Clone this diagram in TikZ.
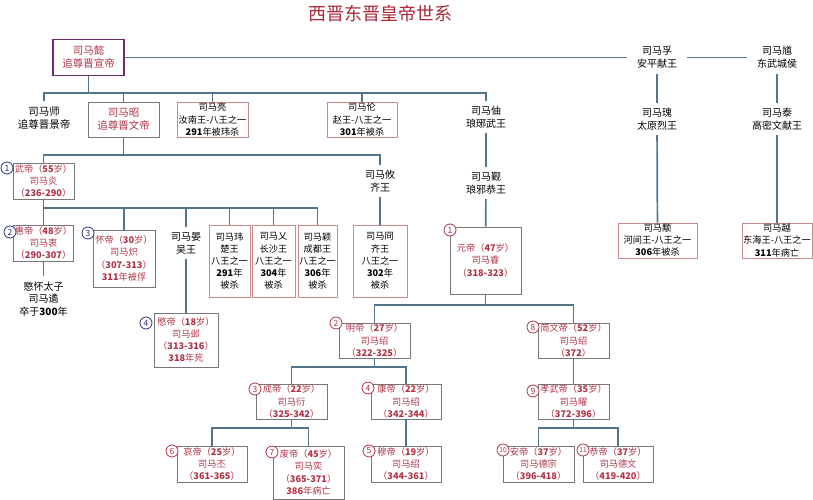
\documentclass[tikz,border=0pt]{standalone}
\usepackage{fontspec}
\setmainfont{Noto Sans CJK SC}
\usepackage{tikz}
\usetikzlibrary{positioning}

\definecolor{jinred}{RGB}{176,52,72}
\definecolor{titlered}{RGB}{172,38,56}
\definecolor{linkc}{RGB}{84,118,138}
\definecolor{boxgray}{RGB}{120,120,120}
\definecolor{wangpink}{RGB}{200,140,140}
\definecolor{yipurple}{RGB}{110,40,110}
\definecolor{numblue}{RGB}{40,50,120}

\begin{document}
\begin{tikzpicture}[
    x=1pt, y=-1pt,
    link/.style={draw=linkc, line width=1.7pt},
    person/.style={align=center, inner xsep=6pt, inner ysep=5pt, font=\fontsize{10}{12.8}\selectfont},
    emperor/.style={rectangle, draw=boxgray, line width=0.8pt, align=center, text=jinred, inner sep=1pt, minimum width=71pt, minimum height=36pt, font=\fontsize{9.2}{12.2}\selectfont},
    wang/.style={emperor, draw=wangpink, text=black},
    numb/.style={circle, draw, fill=white, line width=0.8pt, inner sep=0pt, minimum size=12pt, font=\fontsize{8.5}{8.5}\selectfont},
    numw/.style={numb, draw=numblue, text=numblue},
    nume/.style={numb, draw=jinred, text=jinred}
]
    \useasboundingbox (0,0) rectangle (813,500);

    \node[font=\fontsize{18}{18}\selectfont, text=titlered] (title) at (380,14) {西晋东晋皇帝世系};

    \node[emperor, draw=yipurple, line width=1.6pt, font=\fontsize{10.5}{13}\selectfont] (yi) at (88.5,57.5) {司马懿\\追尊晋宣帝};
    \node[person, inner xsep=10pt] (fu) at (657,57.5) {司马孚\\安平献王};
    \node[person, inner xsep=10pt] (kui) at (777,57.5) {司马馗\\东武城侯};

    \node[person, font=\fontsize{10.5}{13}\selectfont] (shi) at (44,118) {司马师\\追尊晋景帝};
    \node[emperor, minimum height=35pt, font=\fontsize{10.5}{13}\selectfont] (zhao) at (123.5,119.5) {司马昭\\追尊晋文帝};
    \node[wang, minimum height=35pt] (liang) at (212.5,119.5) {司马亮\\汝南王-八王之一\\\textbf{291}年被玮杀};
    \node[wang, minimum height=35pt, minimum width=70pt] (lun) at (362,119.5) {司马伦\\赵王-八王之一\\\textbf{301}年被杀};
    \node[person] (zhou) at (486,117) {司马伷\\琅琊武王};
    \node[person] (gui) at (657,119) {司马瑰\\太原烈王};
    \node[person] (tai) at (777,119) {司马泰\\高密文献王};

    \node[emperor, minimum width=61pt] (wudi) at (43.5,181) {武帝（\textbf{55}岁）\\司马炎\\（\textbf{236-290}）};
    \node[person] (you) at (380,181) {司马攸\\齐王};
    \node[person] (jin) at (486,183) {司马觐\\琅邪恭王};

    \node[emperor, minimum width=58pt] (huidi) at (43.5,243) {惠帝（\textbf{48}岁）\\司马衷\\（\textbf{290-307}）};
    \node[person] (sui) at (43.5,299) {愍怀太子\\司马遹\\卒于\textbf{300}年};
    \node[emperor, minimum width=62pt, minimum height=57pt] (huaidi) at (124,258.5) {怀帝（\textbf{30}岁）\\司马炽\\（\textbf{307-313}）\\\textbf{311}年被俘};
    \node[person] (yan) at (186,243) {司马晏\\吴王};
    \node[wang, minimum width=41pt, minimum height=72pt] (wei) at (229.5,261) {司马玮\\楚王\\八王之一\\\textbf{291}年\\被杀};
    \node[wang, minimum width=43pt, minimum height=72pt] (changsha) at (273.5,261) {司马乂\\长沙王\\八王之一\\\textbf{304}年\\被杀};
    \node[wang, minimum width=39pt, minimum height=72pt] (ying) at (317.5,261) {司马颖\\成都王\\八王之一\\\textbf{306}年\\被杀};
    \node[wang, minimum width=54pt, minimum height=72pt] (jiong) at (380,261) {司马冏\\齐王\\八王之一\\\textbf{302}年\\被杀};
    \node[emperor, minimum height=67pt] (yuandi) at (485.5,260.5) {元帝（\textbf{47}岁）\\司马睿\\（\textbf{318-323}）};
    \node[wang, minimum width=79pt, minimum height=35pt] (yong) at (657.5,240.5) {司马颙\\河间王-八王之一\\\textbf{306}年被杀};
    \node[wang, minimum width=70pt, minimum height=35pt] (yue) at (777,240.5) {司马越\\东海王-八王之一\\\textbf{311}年病亡};

    \node[emperor, minimum width=64pt, minimum height=54pt] (mindi) at (186,340) {愍帝（\textbf{18}岁）\\司马邺\\（\textbf{313-316}）\\\textbf{318}年死};
    \node[emperor, minimum height=35pt] (mingdi) at (374.5,340.5) {明帝（\textbf{27}岁）\\司马绍\\（\textbf{322-325}）};
    \node[emperor, minimum height=35pt] (jianwen) at (573.5,340.5) {简文帝（\textbf{52}岁）\\司马绍\\（\textbf{372}）};

    \node[emperor, minimum height=35pt] (chengdi) at (291.5,401.5) {成帝（\textbf{22}岁）\\司马衍\\（\textbf{325-342}）};
    \node[emperor, minimum height=35pt, minimum width=70pt] (kangdi) at (406,401.5) {康帝（\textbf{22}岁）\\司马绍\\（\textbf{342-344}）};
    \node[emperor, minimum height=35pt] (xiaowu) at (573.5,401.5) {孝武帝（\textbf{35}岁）\\司马曜\\（\textbf{372-396}）};

    \node[emperor, minimum width=70pt] (aidi) at (212,464) {哀帝（\textbf{25}岁）\\司马丕\\（\textbf{361-365}）};
    \node[emperor, minimum height=53pt] (feidi) at (308.5,472.5) {废帝（\textbf{45}岁）\\司马奕\\（\textbf{365-371}）\\\textbf{386}年病亡};
    \node[emperor, minimum width=70pt] (mudi) at (406,464) {穆帝（\textbf{19}岁）\\司马绍\\（\textbf{344-361}）};
    \node[emperor] (andi) at (538.5,464) {安帝（\textbf{37}岁）\\司马德宗\\（\textbf{396-418}）};
    \node[emperor, minimum width=70pt] (gongdi) at (618,464) {恭帝（\textbf{37}岁）\\司马德文\\（\textbf{419-420}）};

    \coordinate (b1) at (88.5,93);
    \coordinate (b2) at (123.5,155);
    \coordinate (b3) at (43.5,208);
    \coordinate (b4) at (485.5,305);
    \coordinate (b5) at (374.5,367);
    \coordinate (b6) at (291.5,428);
    \coordinate (b7) at (573.5,428);

    \draw[link] (yi) -- (fu);
    \draw[link] (fu) -- (kui);
    \draw[link] (fu) -- (gui);
    \draw[link] (gui) -- (yong);
    \draw[link] (kui) -- (tai);
    \draw[link] (tai) -- (yue);

    \draw[link] (yi) -- (b1);
    \draw[link] (b1) -| (shi);
    \draw[link] (b1) -| (zhao);
    \draw[link] (b1) -| (liang);
    \draw[link] (b1) -| (lun);
    \draw[link] (b1) -| (zhou);

    \draw[link] (zhao) -- (b2);
    \draw[link] (b2) -| (wudi);
    \draw[link] (b2) -| (you);
    \draw[link] (you) -- (jiong);

    \draw[link] (wudi) -- (b3);
    \draw[link] (b3) -| (huidi);
    \draw[link] (b3) -| (huaidi);
    \draw[link] (b3) -| (yan);
    \draw[link] (b3) -| (wei);
    \draw[link] (b3) -| (changsha);
    \draw[link] (b3) -| (ying);
    \draw[link] (huidi) -- (sui);
    \draw[link] (yan) -- (mindi);

    \draw[link] (zhou) -- (jin);
    \draw[link] (jin) -- (yuandi);
    \draw[link] (yuandi) -- (b4);
    \draw[link] (b4) -| (mingdi);
    \draw[link] (b4) -| (jianwen);
    \draw[link] (mingdi) -- (b5);
    \draw[link] (b5) -| (chengdi);
    \draw[link] (b5) -| (kangdi);
    \draw[link] (chengdi) -- (b6);
    \draw[link] (b6) -| (aidi);
    \draw[link] (b6) -| (feidi);
    \draw[link] (kangdi) -- (mudi);
    \draw[link] (jianwen) -- (xiaowu);
    \draw[link] (xiaowu) -- (b7);
    \draw[link] (b7) -| (andi);
    \draw[link] (b7) -| (gongdi);

    \node[numw] (w1) at (7,168) {1};
    \node[numw] (w2) at (10,232) {2};
    \node[numw] (w3) at (88,233) {3};
    \node[numw] (w4) at (146,323) {4};

    \node[nume] (e1) at (450,230) {1};
    \node[nume] (e2) at (336,323) {2};
    \node[nume] (e3) at (255,389) {3};
    \node[nume] (e4) at (368,388) {4};
    \node[nume] (e5) at (369,451) {5};
    \node[nume] (e6) at (172,451) {6};
    \node[nume] (e7) at (272,452) {7};
    \node[nume] (e8) at (533,327) {8};
    \node[nume] (e9) at (533,391) {9};
    \node[nume, font=\fontsize{6.5}{6.5}\selectfont] (e10) at (503,450) {10};
    \node[nume, font=\fontsize{6.5}{6.5}\selectfont] (e11) at (583,450) {11};
\end{tikzpicture}
\end{document}
